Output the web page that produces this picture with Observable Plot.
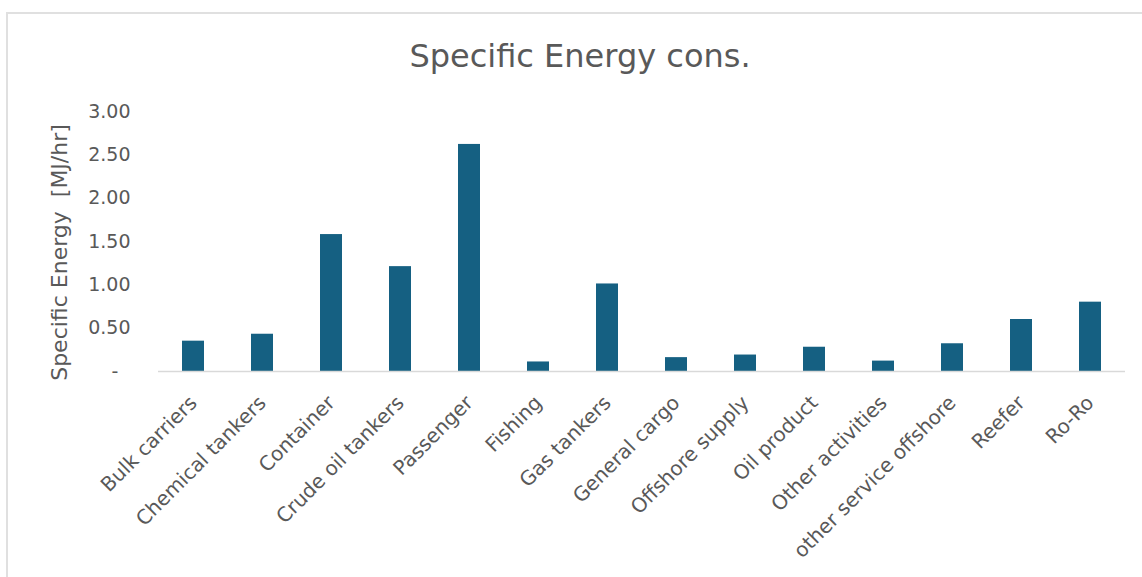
<!DOCTYPE html>
<html>
<head>
<meta charset="utf-8">
<script src="https://cdn.jsdelivr.net/npm/d3@7"></script>
<script src="https://cdn.jsdelivr.net/npm/@observablehq/plot@0.6"></script>
<style>
  html, body { margin: 0; padding: 0; background: #fff; }
  body { width: 1142px; height: 577px; overflow: hidden; position: relative; font-family: "DejaVu Sans", sans-serif; }
  #frame { position: absolute; left: 6px; top: 12px; width: 1200px; height: 700px; border: 2px solid #e0e0e0; box-sizing: border-box; pointer-events: none; }
  #title { position: relative; height: 90px; box-sizing: border-box; padding-top: 40px; text-align: center; font-size: 32px; line-height: 32px; color: #595959; padding-left: 18px; }
  #chart svg { display: block; }
</style>
</head>
<body>
<div id="frame"></div>
<div id="title">Specific Energy cons.</div>
<div id="chart"></div>
<script>
const categories = ["Bulk carriers", "Chemical tankers", "Container", "Crude oil tankers", "Passenger", "Fishing", "Gas tankers", "General cargo", "Offshore supply", "Oil product", "Other activities", "other service offshore", "Reefer", "Ro-Ro"];
const values = [0.35, 0.43, 1.58, 1.21, 2.62, 0.11, 1.01, 0.16, 0.19, 0.28, 0.12, 0.32, 0.60, 0.80];
const yTicks = [0, 0.5, 1, 1.5, 2, 2.5, 3];
const yLabel = "Specific Energy\u00a0\u00a0[MJ/hr]";

const data = categories.map((c, i) => ({cat: c, val: values[i]}));

const chart = Plot.plot({
  width: 1142,
  height: 487,
  marginTop: 21,
  marginBottom: 206,
  marginLeft: 158,
  marginRight: 17,
  style: {fontFamily: "DejaVu Sans, sans-serif", color: "#595959", background: "transparent"},
  x: {domain: categories, paddingInner: 0.686, paddingOuter: 0.343},
  y: {domain: [0, 3]},
  marks: [
    Plot.barY(data, {x: "cat", y: "val", fill: "#156082"}),
    Plot.ruleY([0], {stroke: "#d9d9d9", strokeWidth: 1.5}),
    Plot.axisY({
      ticks: yTicks,
      tickSize: 0,
      tickPadding: 28,
      fontSize: 19,
      fill: "#595959",
      tickFormat: d => d === 0 ? "-\u2007" : d.toFixed(2),
      label: yLabel,
      labelAnchor: "center",
      labelArrow: "none",
      labelOffset: 107
    }),
    Plot.axisX({
      tickRotate: -45,
      tickSize: 0,
      tickPadding: 28,
      fontSize: 20,
      fill: "#595959",
      label: null
    })
  ]
});
document.getElementById("chart").appendChild(chart);
// y-axis label: larger font, nudged down like the reference
chart.querySelectorAll("g[aria-label='y-axis label'] text").forEach(t => {
  t.setAttribute("font-size", 22);
  const tr = t.getAttribute("transform") || "";
  t.setAttribute("transform", "translate(0,11) " + tr);
});
</script>
</body>
</html>
